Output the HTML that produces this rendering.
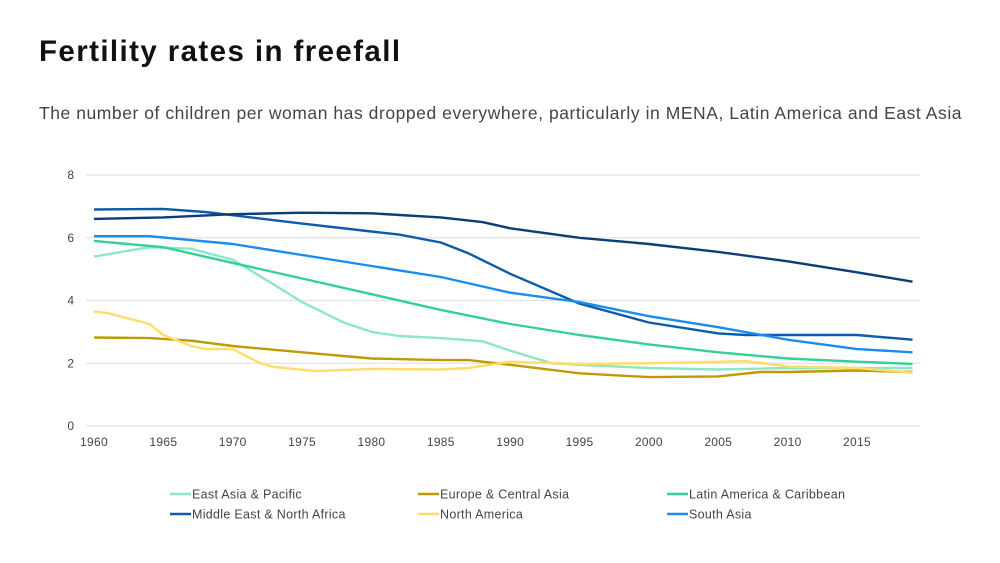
<!DOCTYPE html>
<html><head><meta charset="utf-8"><style>
body{margin:0;background:#fff;width:1000px;height:563px;overflow:hidden;font-family:"Liberation Sans",sans-serif}
svg{position:absolute;left:0;top:0}
</style></head><body>
<svg width="1000" height="563">
<text x="39" y="61" font-size="29.5" font-weight="bold" fill="#111" letter-spacing="1.4">Fertility rates in freefall</text>
<text x="39" y="119" font-size="17.5" fill="#444" letter-spacing="0.55">The number of children per woman has dropped everywhere, particularly in MENA, Latin America and East Asia</text>
<g id="grid"></g><g id="lines"></g><g id="legend"></g>
</svg>
<script>
const xTicks=[1960,1965,1970,1975,1980,1985,1990,1995,2000,2005,2010,2015];
const yTicks=[0,2,4,6,8];
const seriesNames=["East Asia & Pacific","Europe & Central Asia","Latin America & Caribbean","Middle East & North Africa","North America","South Asia","Sub-Saharan Africa"];
const seriesColors=["#8de6c6","#c09a06","#35cf9a","#0a5cab","#fedd6a","#1a8cf0","#0b3d78"];
const eapYears=[1960,1964,1967,1970,1973,1975,1978,1980,1982,1985,1988,1990,1993,1995,2000,2005,2010,2019];
const eapVals=[5.4,5.7,5.65,5.3,4.5,3.95,3.3,3.0,2.87,2.8,2.7,2.4,2.0,1.95,1.85,1.8,1.85,1.85];
const ecaYears=[1960,1964,1967,1970,1975,1980,1985,1987,1990,1995,2000,2005,2008,2010,2015,2019];
const ecaVals=[2.82,2.8,2.72,2.55,2.35,2.15,2.1,2.1,1.95,1.68,1.56,1.58,1.72,1.72,1.77,1.72];
const lacYears=[1960,1965,1970,1975,1980,1985,1990,1995,2000,2005,2010,2015,2019];
const lacVals=[5.9,5.7,5.2,4.7,4.2,3.7,3.25,2.9,2.6,2.35,2.15,2.05,1.98];
const menaYears=[1960,1965,1968,1970,1975,1980,1982,1985,1987,1990,1995,2000,2005,2007,2010,2015,2019];
const menaVals=[6.9,6.92,6.82,6.72,6.45,6.2,6.1,5.85,5.5,4.85,3.9,3.3,2.95,2.9,2.9,2.9,2.75];
const naYears=[1960,1961,1964,1965,1967,1968,1970,1972,1973,1976,1980,1985,1987,1990,1995,2000,2007,2010,2015,2019];
const naVals=[3.65,3.6,3.25,2.9,2.55,2.45,2.45,2.0,1.88,1.75,1.82,1.8,1.85,2.05,1.98,2.0,2.07,1.9,1.85,1.7];
const saYears=[1960,1964,1970,1975,1980,1985,1990,1995,2000,2005,2010,2015,2019];
const saVals=[6.05,6.05,5.8,5.45,5.1,4.75,4.25,3.95,3.5,3.15,2.75,2.45,2.35];
const ssaYears=[1960,1965,1970,1975,1980,1985,1988,1990,1995,2000,2005,2010,2015,2019];
const ssaVals=[6.6,6.65,6.75,6.8,6.78,6.65,6.5,6.3,6.0,5.8,5.55,5.25,4.9,4.6];
const allYears=[eapYears,ecaYears,lacYears,menaYears,naYears,saYears,ssaYears];
const allVals=[eapVals,ecaVals,lacVals,menaVals,naVals,saVals,ssaVals];
const NS="http://www.w3.org/2000/svg";
const X=y=>94+(y-1960)*(857-94)/55;
const Y=v=>426-v*(426-175)/8;
function mk(t,a,p){const e=document.createElementNS(NS,t);for(const k in a)e.setAttribute(k,a[k]);p.appendChild(e);return e;}
const g=document.getElementById('grid');
yTicks.forEach(v=>{
 const l=mk('line',{x1:86,x2:920,y1:Y(v),y2:Y(v),stroke:'#e3e3e3','stroke-width':1.2},g);
 
 
 const t=mk('text',{x:74,y:Y(v)+4,'font-size':12,fill:'#444','text-anchor':'end'},g);
 t.textContent=v;
 
 
});
xTicks.forEach(y=>{
 const t=mk('text',{x:X(y),y:446,'font-size':12,fill:'#444','text-anchor':'middle','letter-spacing':0.3},g);
 t.textContent=y;
 
 
});
const lg=document.getElementById('lines');
allYears.forEach((ys,i)=>{
 const d=ys.map((y,j)=>(j?'L':'M')+X(y).toFixed(1)+','+Y(allVals[i][j]).toFixed(1)).join('');
 const p=mk('path',{d:d,fill:'none',stroke:seriesColors[i],'stroke-width':2.4,'stroke-linejoin':'round'},lg);
 
 
});
const leg=document.getElementById('legend');
const lx=[170,418,667],ly=[494,514];
for(let i=0;i<6;i++){
 const cx=lx[i%3],cy=ly[Math.floor(i/3)];
 const gi=mk('g',{},leg);
 
 
 mk('line',{x1:cx,x2:cx+21,y1:cy,y2:cy,stroke:seriesColors[i],'stroke-width':2.4},gi);
 const t=mk('text',{x:cx+22,y:cy+4.5,'font-size':12.5,fill:'#444','letter-spacing':0.3},gi);
 t.textContent=seriesNames[i];
}
</script>
</body></html>
